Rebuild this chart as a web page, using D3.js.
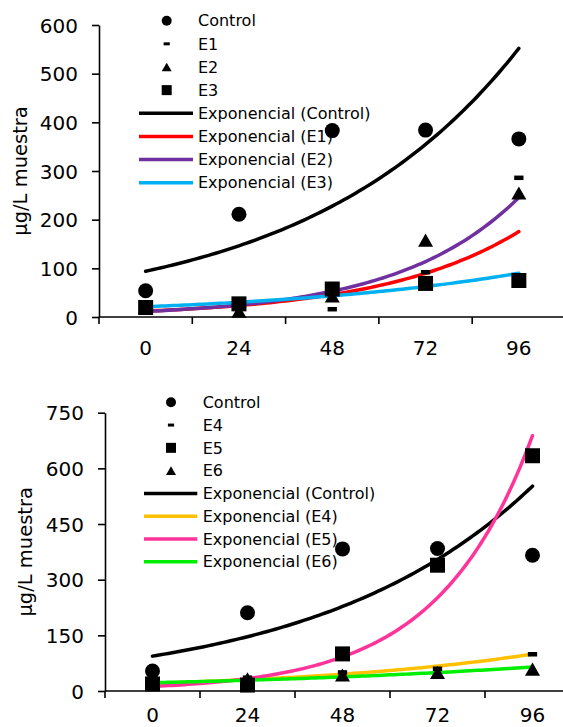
<!DOCTYPE html>
<html>
<head>
<meta charset="utf-8">
<script src="https://cdn.jsdelivr.net/npm/d3@7"></script>
<style>
  body { margin: 0; background: #fff; }
  svg text { font-family: "DejaVu Sans", Verdana, sans-serif; fill: #000; }
</style>
</head>
<body>
<svg id="chart" width="563" height="727"></svg>
<script>
// Sampling times (h) and measured concentrations (µg/L muestra)
const hours      = ["0", "24", "48", "72", "96"];
const hoursNum   = [0, 24, 48, 72, 96];
const control    = [54, 211, 383, 384, 366];
const e1         = [19, 26, 16, 92, 286];
const e2         = [20, 12, 43, 158, 255];
const e3         = [19.5, 27, 57.5, 69, 75];
const e4         = [18, 36, 50, 60, 99];
const e5         = [19, 16, 100, 339, 634];
const e6         = [19, 33, 43, 50, 59];
const ticksTop    = [0, 100, 200, 300, 400, 500, 600];
const ticksBottom = [0, 150, 300, 450, 600, 750];
const yTitle = "µg/L muestra";

// Least-squares fit of ln(y) = a + b·x, returned as y(x) = e^(a + b·x)
function expFit(xs, ys) {
  const L = ys.map(Math.log);
  const mx = d3.mean(xs), ml = d3.mean(L);
  const b = d3.sum(xs, (x, i) => (x - mx) * (L[i] - ml)) / d3.sum(xs, x => (x - mx) ** 2);
  const a = ml - b * mx;
  return x => Math.exp(a + b * x);
}

// Marker shapes
function drawMarker(sel, shape, s) {
  if (shape === "circle") {
    sel.append("circle").attr("r", s / 2);
  } else if (shape === "square") {
    sel.append("rect").attr("x", -s / 2).attr("y", -s / 2).attr("width", s).attr("height", s);
  } else if (shape === "triangle") {
    const w = s, h = s * 0.87;
    sel.append("path").attr("d", `M0,${-h / 2}L${w / 2},${h / 2}L${-w / 2},${h / 2}Z`);
  } else if (shape === "dash") {
    sel.append("rect").attr("x", -s * 0.31).attr("y", -s * 0.15).attr("width", s * 0.62).attr("height", s * 0.3);
  }
}

const svg = d3.select("#chart");

const panels = [
  {
    x0: 99, x1: 565.5, yTop: 25, yBottom: 317, yMax: 600, ticks: ticksTop,
    xLabelY: 355, titleX: 20,
    legend: { top: 20.7, step: 23.14, markerX: 166.7, lineX0: 139, lineX1: 193, textX: 198 },
    points: [
      { name: "Control", values: control, shape: "circle" },
      { name: "E1", values: e1, shape: "dash" },
      { name: "E2", values: e2, shape: "triangle" },
      { name: "E3", values: e3, shape: "square" }
    ],
    trends: [
      { name: "Exponencial (Control)", values: control, color: "#000000" },
      { name: "Exponencial (E1)", values: e1, color: "#ff0000" },
      { name: "Exponencial (E2)", values: e2, color: "#7030a0" },
      { name: "Exponencial (E3)", values: e3, color: "#00b0f0" }
    ]
  },
  {
    x0: 105, x1: 580, yTop: 412.7, yBottom: 691, yMax: 750, ticks: ticksBottom,
    xLabelY: 721.5, titleX: 25,
    legend: { top: 402.3, step: 22.77, markerX: 171, lineX0: 144, lineX1: 197.3, textX: 202.7 },
    points: [
      { name: "Control", values: control, shape: "circle" },
      { name: "E4", values: e4, shape: "dash" },
      { name: "E5", values: e5, shape: "square" },
      { name: "E6", values: e6, shape: "triangle" }
    ],
    trends: [
      { name: "Exponencial (Control)", values: control, color: "#000000" },
      { name: "Exponencial (E4)", values: e4, color: "#ffc000" },
      { name: "Exponencial (E5)", values: e5, color: "#ff3399" },
      { name: "Exponencial (E6)", values: e6, color: "#00ee00" }
    ]
  }
];

panels.forEach(p => {
  const g = svg.append("g");
  const x = d3.scaleBand().domain(hours).range([p.x0, p.x1]).padding(0);
  const bw = x.bandwidth();
  const xc = h => x(h) + bw / 2;
  const xLin = d3.scaleLinear().domain([0, 96]).range([xc("0"), xc("96")]);
  const y = d3.scaleLinear().domain([0, p.yMax]).range([p.yBottom, p.yTop]);

  // Y axis
  const yAxis = g.append("g").attr("transform", `translate(${p.x0},0)`)
    .call(d3.axisLeft(y).tickValues(p.ticks).tickSize(7).tickSizeOuter(0).tickPadding(14));
  yAxis.select(".domain").attr("stroke-width", 1.6);
  yAxis.selectAll(".tick line").attr("stroke-width", 1.6);
  yAxis.selectAll(".tick text").attr("font-size", 20).attr("dy", "0.36em");

  // X axis: line, boundary ticks, category labels
  g.append("line").attr("x1", p.x0).attr("x2", 563).attr("y1", y(0)).attr("y2", y(0))
    .attr("stroke", "#000").attr("stroke-width", 1.6);
  const bounds = hours.map(h => x(h)).concat([x(hours[hours.length - 1]) + bw]);
  g.selectAll(".xb").data(bounds).join("line")
    .attr("x1", d => d).attr("x2", d => d)
    .attr("y1", y(0)).attr("y2", y(0) + 7)
    .attr("stroke", "#000").attr("stroke-width", 1.6);
  g.selectAll(".xl").data(hours).join("text")
    .attr("x", d => xc(d)).attr("y", p.xLabelY)
    .attr("text-anchor", "middle").attr("font-size", 20).text(d => d);

  // Y axis title
  g.append("text")
    .attr("transform", `translate(${p.titleX},${(p.yTop + p.yBottom) / 2}) rotate(-90)`)
    .attr("text-anchor", "middle").attr("dy", "0.36em").attr("font-size", 19.5)
    .text(yTitle);

  // Legend (drawn below the data)
  const lg = g.append("g");
  const L = p.legend;
  p.points.forEach((s, i) => {
    const cy = L.top + i * L.step;
    drawMarker(lg.append("g").attr("transform", `translate(${L.markerX},${cy})`), s.shape, 10);
    lg.append("text").attr("x", L.textX).attr("y", cy).attr("dy", "0.36em")
      .attr("font-size", 16).text(s.name);
  });
  p.trends.forEach((t, j) => {
    const cy = L.top + (p.points.length + j) * L.step;
    lg.append("line").attr("x1", L.lineX0).attr("x2", L.lineX1).attr("y1", cy).attr("y2", cy)
      .attr("stroke", t.color).attr("stroke-width", 3.5);
    lg.append("text").attr("x", L.textX).attr("y", cy).attr("dy", "0.36em")
      .attr("font-size", 16).text(t.name);
  });

  // Exponential trend lines
  const line = d3.line().x(d => xLin(d[0])).y(d => y(d[1]));
  p.trends.forEach(t => {
    const f = expFit(hoursNum, t.values);
    const pts = d3.range(0, 96.5, 1).map(h => [h, f(h)]);
    g.append("path").attr("d", line(pts)).attr("fill", "none")
      .attr("stroke", t.color).attr("stroke-width", 3.5).attr("stroke-linecap", "round");
  });

  // Data markers
  p.points.forEach(s => {
    s.values.forEach((v, i) => {
      drawMarker(g.append("g").attr("transform", `translate(${xc(hours[i])},${y(v)})`), s.shape, 15);
    });
  });
});
</script>
</body>
</html>
